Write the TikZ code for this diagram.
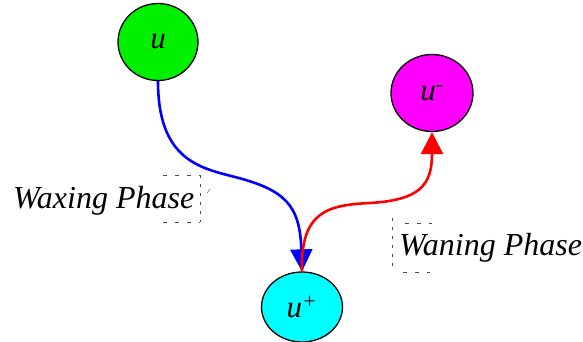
\documentclass[tikz,border=0pt]{standalone}
\usepackage{fontspec}
\newfontfamily\tnr{Liberation Serif}
\usetikzlibrary{shapes.geometric,arrows.meta}
\definecolor{ngreen}{RGB}{0,240,0}
\definecolor{nmag}{RGB}{255,0,255}
\definecolor{ncyan}{RGB}{0,255,255}
\definecolor{nblue}{RGB}{0,0,255}
\definecolor{nred}{RGB}{255,0,0}
\begin{document}
\begin{tikzpicture}[x=1pt,y=-1pt,
  state/.style={ellipse,draw=black,line width=1.3pt,inner sep=0pt,font=\tnr\fontsize{31}{36}\selectfont\itshape},
  lbl/.style={font=\tnr\fontsize{32}{36}\selectfont\itshape,inner sep=0pt},
  frame/.style={dash pattern=on 4pt off 8pt,line width=0.6pt,black!70},
  flow/.style={line width=2.6pt,-{Triangle[length=22pt,width=22pt]}}]
\useasboundingbox (0,0) rectangle (583,342);
\node[state,fill=ngreen,minimum width=80pt,minimum height=77pt] (u) at (158,42) {u};
\node[state,fill=nmag,minimum width=82pt,minimum height=77pt] (um) at (432,93) {u\textsuperscript{-}};
\node[state,fill=ncyan,minimum width=81pt,minimum height=70pt] (up) at (302,307) {u\textsuperscript{+}};
\node[lbl,anchor=base west] (wax) at (13,208) {Waxing Phase};
\node[lbl,anchor=base west] (wan) at (399,255) {Waning Phase};
\coordinate (b1) at (235,177);
\coordinate (r1) at (370,203);
\draw[flow,nblue] (u.south) .. controls (158,160) and (200,168) .. (b1)
  .. controls (285,190) and (300,205) .. (up.north);
\draw[flow,nred] (up.north) .. controls (300,210) and (330,205) .. (r1)
  .. controls (420,200) and (432,185) .. (um.south);
% remnants of text frames
\coordinate (wx1) at (163,175); \coordinate (wx2) at (200,175);
\coordinate (wx3) at (200,222); \coordinate (wx4) at (163,222);
\draw[frame] (wx1) -- (wx2);
\draw[frame,dash pattern=on 3pt off 6pt] (wx2) -- (wx3);
\draw[frame] (wx4) -- (wx3);
\coordinate (tk1) at (207,193); \coordinate (tk2) at (210,189);
\draw[line width=0.5pt,black!60] (tk1) -- (tk2);
\coordinate (wn1) at (392,218); \coordinate (wn2) at (392,268);
\draw[frame,dash pattern=on 3pt off 6pt] (wn1) -- (wn2);
\coordinate (wn3) at (405,223); \coordinate (wn4) at (432,223);
\draw[frame] (wn3) -- (wn4);
\coordinate (wn5) at (403,272); \coordinate (wn6) at (430,272);
\draw[frame] (wn5) -- (wn6);
\end{tikzpicture}
\end{document}
